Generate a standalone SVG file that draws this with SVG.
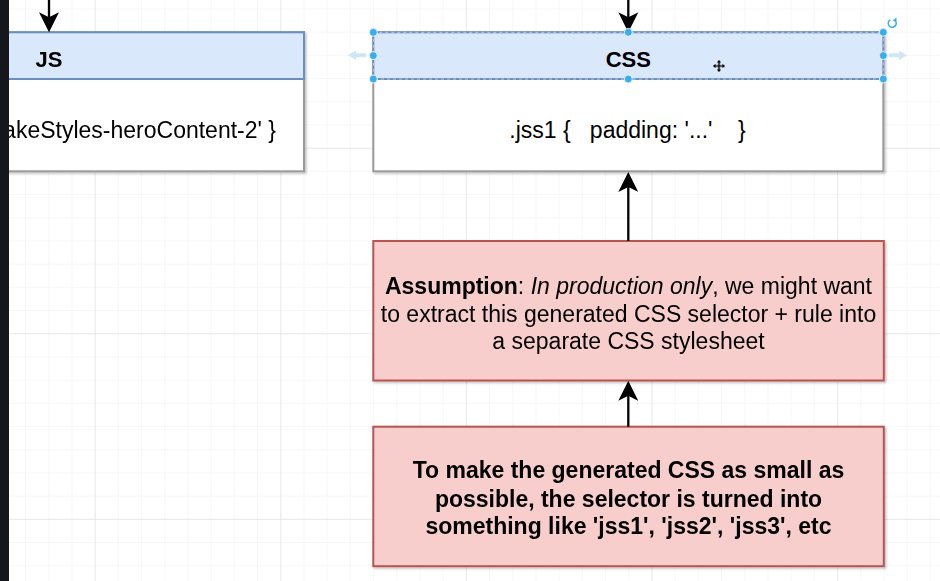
<svg xmlns="http://www.w3.org/2000/svg" width="940" height="581" viewBox="0 0 940 581">
<style>
  .t { font-family: "Liberation Sans", Arial, Helvetica, sans-serif; fill: #000; }
  .hdr { font-size: 22px; font-weight: bold; }
  .body { font-size: 23px; white-space: pre; }
  .note { font-size: 23px; }
  .b { font-weight: bold; }
  .i { font-style: italic; }
  .lane { fill: #ffffff; stroke: #9a9a9a; stroke-width: 2; }
  .head { fill: #dae8fc; stroke: #6c8ebf; stroke-width: 2; }
  .pink { fill: #f8cecc; stroke: #b85450; stroke-width: 2; }
  .edge { fill: none; stroke: #000; stroke-width: 2.3; }
  .handle { fill: #3aaeed; stroke: #ffffff; stroke-width: 0.8; }
  .hint { fill: #cfe6f7; }
</style>
<defs>
  <pattern id="minor" patternUnits="userSpaceOnUse" x="1.9" y="8.5" width="23.2" height="23.2">
    <path d="M0,0 H23.2 M0,0 V23.2" fill="none" stroke="#f0f0f0" stroke-width="1"/>
  </pattern>
  <pattern id="major" patternUnits="userSpaceOnUse" x="94.7" y="147.7" width="185.6" height="185.6">
    <path d="M0,0 H185.6 M0,0 V185.6" fill="none" stroke="#dcdcdc" stroke-width="1"/>
  </pattern>
  <marker id="arrow" viewBox="0 0 20 20" refX="5" refY="10" markerWidth="20" markerHeight="20" markerUnits="userSpaceOnUse" orient="auto">
    <path d="M20,10 L0,0 L5,10 L0,20 Z" fill="#000"/>
  </marker>
  <filter id="shadow" x="-5%" y="-5%" width="112%" height="120%">
    <feDropShadow dx="1.5" dy="1.5" stdDeviation="0.8" flood-color="#000" flood-opacity="0.25"/>
  </filter>
</defs>

<!-- background grid -->
<rect x="0" y="0" width="940" height="581" fill="#ffffff"/>
<rect x="0" y="0" width="940" height="581" fill="url(#minor)"/>
<rect x="0" y="0" width="940" height="581" fill="url(#major)"/>

<!-- JS node (partially off-canvas) -->
<g id="node-js" filter="url(#shadow)">
  <rect class="lane" x="-20" y="32.3" width="324" height="139"/>
  <rect class="head" x="-20" y="32.3" width="324" height="46.7"/>
  <text class="t hdr" x="49" y="66.5" text-anchor="middle">JS</text>
  <text class="t body" x="276" y="137.5" text-anchor="end">akeStyles-heroContent-2' }</text>
</g>

<!-- CSS node (selected) -->
<g id="node-css">
  <g filter="url(#shadow)">
    <rect class="lane" x="373.3" y="32.3" width="510" height="139"/>
    <rect class="head" x="373.3" y="32.3" width="510" height="46.7"/>
  </g>
  <rect x="373.3" y="32.3" width="510" height="46.7" fill="none" stroke="#b7c9e6" stroke-width="1" stroke-dasharray="3 3"/>
  <text class="t hdr" x="628.3" y="66.5" text-anchor="middle">CSS</text>
  <text class="t body" x="627.5" y="137.5" text-anchor="middle">.jss1 {   padding: '...'    }</text>
</g>

<!-- Assumption note -->
<g id="node-assumption" filter="url(#shadow)">
  <rect class="pink" x="373.3" y="241" width="510.5" height="139.5"/>
  <text class="t note" x="628.5" y="294" text-anchor="middle"><tspan class="b">Assumption</tspan>: <tspan class="i">In production only</tspan>, we might want</text>
  <text class="t note" x="628.5" y="321.7" text-anchor="middle">to extract this generated CSS selector + rule into</text>
  <text class="t note" x="628.5" y="349.3" text-anchor="middle">a separate CSS stylesheet</text>
</g>

<!-- Small selector note -->
<g id="node-selector" filter="url(#shadow)">
  <rect class="pink" x="373.3" y="426.7" width="510.5" height="139.5"/>
  <text class="t note b" x="628.5" y="478.3" text-anchor="middle">To make the generated CSS as small as</text>
  <text class="t note b" x="628.5" y="506.7" text-anchor="middle">possible, the selector is turned into</text>
  <text class="t note b" x="628.5" y="534.3" text-anchor="middle">something like 'jss1', 'jss2', 'jss3', etc</text>
</g>

<!-- connectors -->
<g id="connectors">
  <path class="edge" d="M49,-5 V17.3" marker-end="url(#arrow)"/>
  <path class="edge" d="M628.3,-5 V17.3" marker-end="url(#arrow)"/>
  <path class="edge" d="M628.3,241 V187" marker-end="url(#arrow)"/>
  <path class="edge" d="M628.3,426.7 V395.8" marker-end="url(#arrow)"/>
</g>

<!-- selection decorations -->
<g id="selection">
  <path class="hint" d="M348,55.3 L356,50.5 L356,53.3 L366,53.3 L366,57.3 L356,57.3 L356,60.1 Z"/>
  <path class="hint" d="M907,55.3 L899,50.5 L899,53.3 L889,53.3 L889,57.3 L899,57.3 L899,60.1 Z"/>
  <circle class="handle" cx="373.3" cy="32.3" r="4"/>
  <circle class="handle" cx="628.3" cy="32.3" r="4"/>
  <circle class="handle" cx="883.3" cy="32.3" r="4"/>
  <circle class="handle" cx="373.3" cy="55.6" r="4"/>
  <circle class="handle" cx="883.3" cy="55.6" r="4"/>
  <circle class="handle" cx="373.3" cy="79" r="4"/>
  <circle class="handle" cx="628.3" cy="79" r="4"/>
  <circle class="handle" cx="883.3" cy="79" r="4"/>
  <path d="M890.3,19.8 A4,4 0 1 0 894.6,20.1" fill="none" stroke="#3aaeed" stroke-width="1.5"/>
  <path d="M896.6,17.4 L896.4,21.8 L892.4,20.4 Z" fill="#3aaeed"/>
  <g transform="translate(719,66)">
    <path d="M0,-5.5 V5.5 M-5.5,0 H5.5" stroke="#888" stroke-width="3" opacity="0.5"/>
    <path d="M0,-5 V5 M-5,0 H5" stroke="#000" stroke-width="1.2"/>
    <path d="M0,-6 L-2,-3.5 H2 Z M0,6 L-2,3.5 H2 Z M-6,0 L-3.5,-2 V2 Z M6,0 L3.5,-2 V2 Z" fill="#000"/>
  </g>
</g>

<!-- dark side strip -->
<rect x="0" y="0" width="9" height="581" fill="#16171c"/>
</svg>
